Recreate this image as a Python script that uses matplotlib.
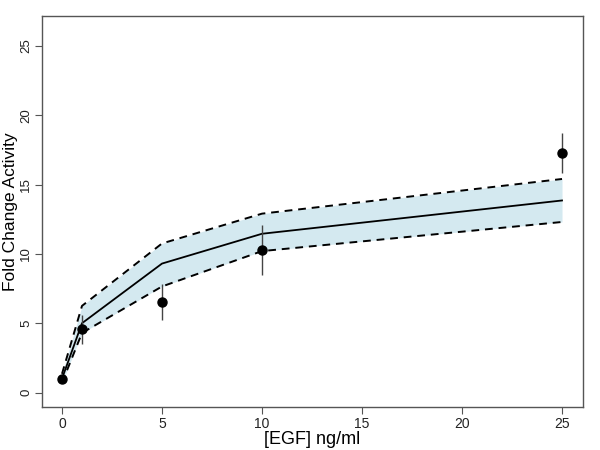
import matplotlib
matplotlib.use("Agg")
import matplotlib.pyplot as plt

plt.rcParams['font.family'] = ['Liberation Sans', 'DejaVu Sans']

# data
egf = [0, 1, 5, 10, 25]
obs_mean = [1.0, 4.55, 6.55, 10.25, 17.25]
obs_low = [0.85, 3.5, 5.2, 8.45, 15.8]
obs_high = [1.15, 5.6, 7.8, 12.1, 18.75]
fit = [1.0, 5.0, 9.3, 11.45, 13.85]
fit_low = [0.7, 4.3, 7.65, 10.2, 12.3]
fit_high = [1.35, 6.25, 10.75, 12.9, 15.4]

fig = plt.figure(figsize=(6, 4.5), dpi=100)
ax = fig.add_axes([0.07, 0.0956, 0.9017, 0.8688])

ax.fill_between(egf, fit_low, fit_high, color='#d4e9f0', linewidth=0)
ax.plot(egf, fit, color='black', lw=1.3)
ax.plot(egf, fit_low, color='black', lw=1.4, ls=(0, (4, 3)))
ax.plot(egf, fit_high, color='black', lw=1.4, ls=(0, (4, 3)))
ax.vlines(egf, obs_low, obs_high, color='#444444', lw=1.0)
ax.plot(egf, obs_mean, 'o', color='black', markersize=6.5)

ax.set_xlim(-1, 26.05)
ax.set_ylim(-1.04, 27.15)
ax.set_xticks([0, 5, 10, 15, 20, 25])
ax.set_yticks([0, 5, 10, 15, 20, 25])
for s in ax.spines.values():
    s.set_color('#555555')
    s.set_linewidth(1.0)
ax.tick_params(axis='both', colors='#555555', labelcolor='#222222', labelsize=10, length=5, width=0.8)
ax.tick_params(axis='x', pad=2)
ax.tick_params(axis='y', pad=2, labelsize=9.5)
for lab in ax.get_yticklabels():
    lab.set_rotation(90)
    lab.set_va('center')
ax.set_xlabel('[EGF] ng/ml', fontsize=13)
ax.set_ylabel('Fold Change Activity', fontsize=12.5)
ax.yaxis.set_label_coords(-0.059, 0.5)
ax.xaxis.set_label_coords(0.5, -0.083)
ax.xaxis.label.set_va('center')
ax.yaxis.label.set_va('center')

fig.savefig('out.png', dpi=100)
